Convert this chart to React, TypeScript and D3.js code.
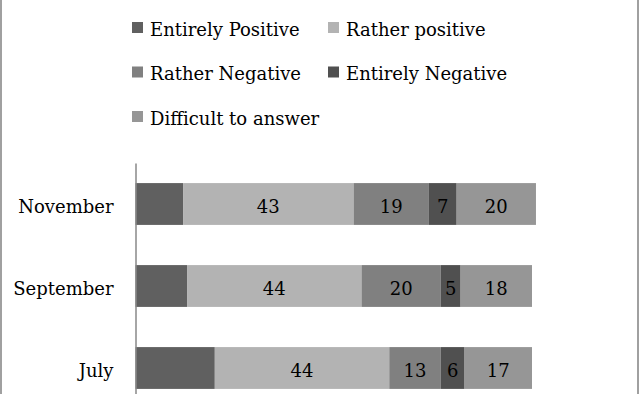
import { useEffect, useRef } from 'react';
import * as d3 from 'd3';

const months = ['November', 'September', 'July'];
const seriesNames = ['Entirely Positive', 'Rather positive', 'Rather Negative', 'Entirely Negative', 'Difficult to answer'];
const seriesColors = ['#606060', '#b3b3b3', '#808080', '#505050', '#969696'];
const showLabel = [false, true, true, true, true];

// values per series, in month order (November, September, July)
const entirelyPositive = [12, 13, 20];
const ratherPositive = [43, 44, 44];
const ratherNegative = [19, 20, 13];
const entirelyNegative = [7, 5, 6];
const difficult = [20, 18, 17];

const allSeries = [entirelyPositive, ratherPositive, ratherNegative, entirelyNegative, difficult];

function App() {
  const svgRef = useRef<SVGSVGElement>(null);

  useEffect(() => {
    const w = 639;
    const h = 394;
    const font = 'DejaVu Serif, serif';
    const fs = 18;
    const svg = d3.select(svgRef.current)
      .attr('width', w)
      .attr('height', h)
      .style('background', '#fff');
    svg.selectAll('*').remove();

    // frame lines left and right
    svg.append('rect').attr('x', 0).attr('y', 0).attr('width', 2).attr('height', h).attr('fill', '#a0a0a0');
    svg.append('rect').attr('x', 637).attr('y', 0).attr('width', 2).attr('height', h).attr('fill', '#a0a0a0');

    const xScale = d3.scaleLinear().domain([0, 100]).range([135.5, 532]);
    const yScale = d3.scaleBand().domain(months).range([163, 409]).paddingInner(0.49).paddingOuter(0.245);

    // stack the series
    const rows = months.map((m, i) => {
      const row: any = { month: m };
      seriesNames.forEach((s, j) => { row[s] = allSeries[j][i]; });
      return row;
    });
    const stacked = d3.stack().keys(seriesNames)(rows);

    stacked.forEach((layer, j) => {
      const g = svg.append('g');
      g.selectAll('rect').data(layer).enter()
        .append('rect')
        .attr('x', d => xScale(d[0]))
        .attr('y', (d: any) => yScale(d.data.month)!)
        .attr('width', d => xScale(d[1]) - xScale(d[0]))
        .attr('height', yScale.bandwidth())
        .attr('fill', seriesColors[j]);
      if (showLabel[j]) {
        g.selectAll('text').data(layer).enter()
          .append('text')
          .attr('x', d => (xScale(d[0]) + xScale(d[1])) / 2)
          .attr('y', (d: any) => yScale(d.data.month)! + yScale.bandwidth() / 2)
          .attr('dy', '0.5em')
          .attr('text-anchor', 'middle')
          .attr('font-family', font)
          .attr('font-size', fs)
          .attr('fill', '#000')
          .text((d, i) => allSeries[j][i]);
      }
    });

    // vertical axis
    const yAxis = svg.append('g')
      .attr('transform', 'translate(135.5,0)')
      .call(d3.axisLeft(yScale).tickSize(0).tickPadding(22));
    yAxis.select('.domain').attr('stroke', '#888').attr('stroke-width', 1.5);
    yAxis.selectAll('text')
      .attr('dy', '0.5em')
      .attr('font-family', font)
      .attr('font-size', fs)
      .attr('fill', '#000');

    // legend
    const legendPos = [[132, 27.5], [328, 27.5], [132, 72], [328, 72], [132, 116.5]];
    seriesNames.forEach((s, j) => {
      const [lx, ly] = legendPos[j];
      svg.append('rect')
        .attr('x', lx).attr('y', ly - 5.5)
        .attr('width', 11).attr('height', 11)
        .attr('fill', seriesColors[j]);
      svg.append('text')
        .attr('x', lx + 18).attr('y', ly)
        .attr('dy', '0.45em')
        .attr('font-family', font)
        .attr('font-size', fs)
        .attr('fill', '#000')
        .text(s);
    });
  }, []);

  return (
    <div style={{ position: 'absolute', left: 0, top: 0 }}>
      <svg ref={svgRef}></svg>
    </div>
  );
}

export default App;
